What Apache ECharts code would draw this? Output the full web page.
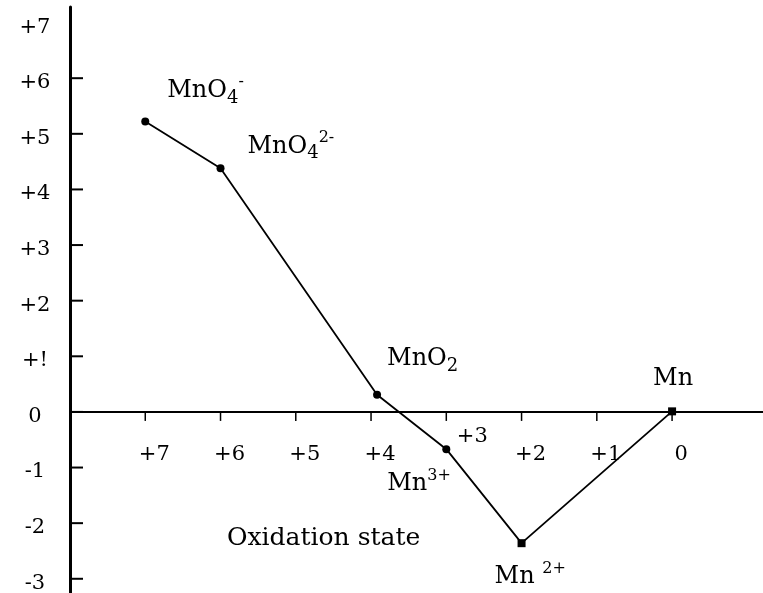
<!DOCTYPE html>
<html>
<head>
<meta charset="utf-8">
<script src="https://cdn.jsdelivr.net/npm/echarts@6/dist/echarts.min.js"></script>
<style>
html, body { margin: 0; padding: 0; background: #fff; }
#chart { width: 763px; height: 593px; }
</style>
</head>
<body>
<div id="chart"></div>
<script>
// ---- data ----
const oxidationStates = [7, 6, 3.92, 3, 2, 0];
const freeEnergies = [5.22, 4.38, 0.31, -0.67, -2.36, 0.01];
const speciesLabels = [
  '{m|MnO}{sub|4}{sup|-}',
  '{m|MnO}{sub|4}{sup|2-}',
  '{m|MnO}{sub|2}',
  '{m|Mn}{sup|3+}',
  '{m|Mn }{sup|2+}',
  '{m|Mn}'
];
const xTickValues = [7, 6, 5, 4, 3, 2, 1, 0];
const xTickLabels = ['+7', '+6', '+5', '+4', '+3', '+2', '+1', '0'];
const yTickValues = [6, 5, 4, 3, 2, 1, 0, -1, -2, -3];
const yLabelValues = [7, 6, 5, 4, 3, 2, 1, 0, -1, -2, -3];
const yTickLabels = ['+7', '+6', '+5', '+4', '+3', '+2', '+!', '0', '-1', '-2', '-3'];
const xAxisTitle = 'Oxidation state';

// ---- styling ----
const FONT = 'DejaVu Serif';
// order follows the data: MnO4-, MnO4 2-, MnO2, Mn3+, Mn2+, Mn
const labelOffsets = [[22, -31], [27, -22], [10, -36], [-59, 35], [-27, 34], [-19, -33]];
const symbols = ['circle', 'circle', 'circle', 'circle', 'rect', 'rect'];
const xLabelOffsets = xTickValues.map(v => v === 3 ? [26, 20] : [9, 38]);

const lineData = oxidationStates.map((x, i) => ({
  value: [x, freeEnergies[i]],
  symbol: symbols[i],
  label: {
    show: true,
    formatter: speciesLabels[i],
    position: 'inside',
    align: 'left',
    verticalAlign: 'middle',
    offset: labelOffsets[i]
  }
}));

const xTickData = xTickValues.map((v, i) => ({
  value: [v, 0],
  label: { offset: xLabelOffsets[i] }
}));

const richSpecies = {
  m: { fontFamily: FONT, fontSize: 24, lineHeight: 26, color: '#000' },
  sub: { fontFamily: FONT, fontSize: 18, lineHeight: 18, padding: [15, 0, 0, 0], color: '#000' },
  sup: { fontFamily: FONT, fontSize: 16, lineHeight: 16, padding: [0, 0, 17, 0], color: '#000' }
};

const chart = echarts.init(document.getElementById('chart'), null, { renderer: 'canvas' });
chart.setOption({
  animation: false,
  backgroundColor: '#fff',
  title: {
    text: xAxisTitle,
    left: 227,
    top: 526,
    padding: 0,
    textStyle: { fontFamily: FONT, fontSize: 25, fontWeight: 'normal', color: '#000' }
  },
  grid: {
    left: 70, right: -59.6, top: 7, bottom: -41.4,
    containLabel: false,
    outerBoundsMode: 'none'
  },
  xAxis: {
    type: 'value',
    inverse: true,
    min: -2,
    max: 8,
    interval: 1,
    axisLine: { onZero: true, lineStyle: { color: '#000', width: 2 } },
    axisTick: { show: false },
    splitLine: { show: false },
    axisLabel: { show: false }
  },
  yAxis: {
    type: 'value',
    min: -4,
    max: 7.28,
    interval: 1,
    axisLine: { show: true, onZero: false, lineStyle: { color: '#000', width: 3 } },
    axisTick: { show: false },
    splitLine: { show: false },
    axisLabel: {
      margin: 35,
      align: 'center',
      formatter: function (v) {
        const i = yLabelValues.indexOf(v);
        if (i < 0) return '';
        return '{y|' + yTickLabels[i] + '}';
      },
      rich: {
        y: { fontFamily: FONT, fontSize: 21, lineHeight: 22, color: '#000', padding: [9, 0, 0, 0] }
      }
    }
  },
  series: [
    {
      type: 'scatter',
      data: xTickData,
      symbol: 'rect',
      symbolSize: [1.5, 9],
      symbolOffset: [0, 4.5],
      itemStyle: { color: '#000', opacity: 1 },
      label: {
        show: true,
        position: 'inside',
        align: 'center',
        verticalAlign: 'middle',
        formatter: function (p) { return '{t|' + xTickLabels[p.dataIndex] + '}'; },
        rich: { t: { fontFamily: FONT, fontSize: 21, lineHeight: 22, color: '#000' } }
      },
      clip: false,
      silent: true,
      z: 1
    },
    {
      type: 'scatter',
      data: yTickValues.map(v => [8, v]),
      symbol: 'rect',
      symbolSize: [13, 2],
      symbolOffset: [6.5, 0],
      itemStyle: { color: '#000', opacity: 1 },
      clip: false,
      silent: true,
      z: 1
    },
    {
      type: 'line',
      data: lineData,
      symbolSize: 8,
      showSymbol: true,
      clip: false,
      lineStyle: { color: '#000', width: 1.8 },
      itemStyle: { color: '#000' },
      label: { rich: richSpecies },
      z: 3
    }
  ]
});
</script>
</body>
</html>
